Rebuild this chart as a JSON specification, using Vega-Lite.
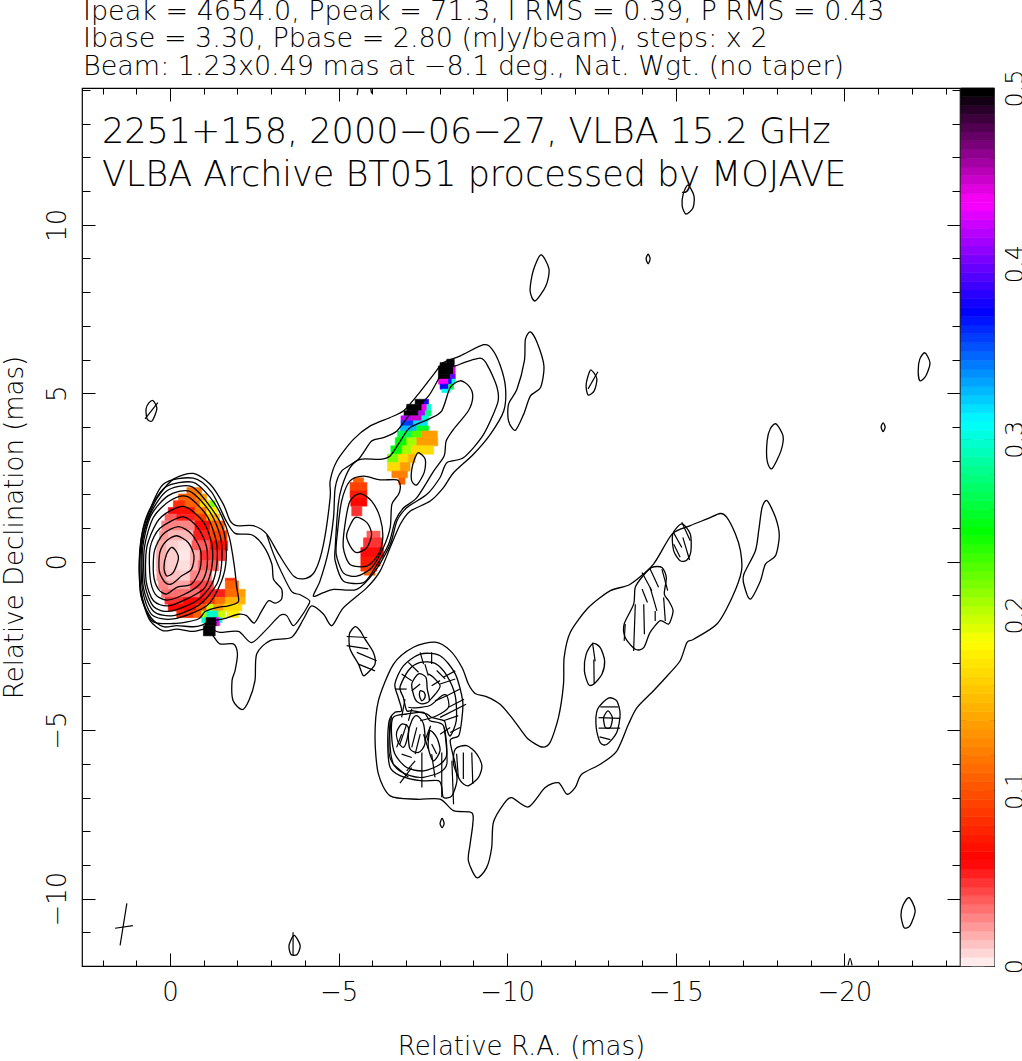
{"$schema":"https://vega.github.io/schema/vega-lite/v6.json","background":"white","padding":{"left":0,"top":-3,"right":0,"bottom":0},"bounds":"flush","spacing":1,
"config":{"font":"DejaVu Sans","view":{"stroke":"#000","strokeWidth":1.2},"axis":{"grid":false,"domain":false,"tickColor":"#000","tickWidth":1,"labelColor":"#000","titleColor":"#000","labelFont":"DejaVu Sans","titleFont":"DejaVu Sans","labelFontWeight":200,"titleFontWeight":200,"labelFontSize":26,"titleFontSize":26,"labelOverlap":false,"labelBound":false,"labelFlush":false}},
"datasets":{
"heat":[
{"ra0":-0.5,"ra1":-0.94,"dec0":2.2,"dec1":2.01,"frac":0.12},
{"ra0":-0.25,"ra1":-0.79,"dec0":2.01,"dec1":1.81,"frac":0.11},{"ra0":-0.79,"ra1":-1.09,"dec0":2.01,"dec1":1.81,"frac":0.14},
{"ra0":-0.1,"ra1":-0.45,"dec0":1.81,"dec1":1.61,"frac":0.085},{"ra0":-0.45,"ra1":-0.89,"dec0":1.81,"dec1":1.61,"frac":0.11},{"ra0":-0.89,"ra1":-1.19,"dec0":1.81,"dec1":1.61,"frac":0.17},{"ra0":-1.19,"ra1":-1.34,"dec0":1.81,"dec1":1.61,"frac":0.22},
{"ra0":0.05,"ra1":-0.3,"dec0":1.61,"dec1":1.41,"frac":0.06},{"ra0":-0.3,"ra1":-0.74,"dec0":1.61,"dec1":1.41,"frac":0.07},{"ra0":-0.74,"ra1":-1.09,"dec0":1.61,"dec1":1.41,"frac":0.12},{"ra0":-1.09,"ra1":-1.41,"dec0":1.61,"dec1":1.41,"frac":0.18},
{"ra0":0.15,"ra1":-0.2,"dec0":1.41,"dec1":1.21,"frac":0.04},{"ra0":-0.2,"ra1":-0.74,"dec0":1.41,"dec1":1.21,"frac":0.055},{"ra0":-0.74,"ra1":-1.09,"dec0":1.41,"dec1":1.21,"frac":0.09},{"ra0":-1.09,"ra1":-1.47,"dec0":1.41,"dec1":1.21,"frac":0.15},
{"ra0":0.25,"ra1":0,"dec0":1.21,"dec1":0.92,"frac":0.03},{"ra0":0,"ra1":-0.74,"dec0":1.21,"dec1":0.92,"frac":0.03},{"ra0":-0.74,"ra1":-1.19,"dec0":1.21,"dec1":0.92,"frac":0.06},{"ra0":-1.19,"ra1":-1.61,"dec0":1.21,"dec1":0.92,"frac":0.11},
{"ra0":0.31,"ra1":0.05,"dec0":0.92,"dec1":0.62,"frac":0.025},{"ra0":0.05,"ra1":-0.7,"dec0":0.92,"dec1":0.62,"frac":0.018},{"ra0":-0.7,"ra1":-1.19,"dec0":0.92,"dec1":0.62,"frac":0.055},{"ra0":-1.19,"ra1":-1.69,"dec0":0.92,"dec1":0.62,"frac":0.095},
{"ra0":0.39,"ra1":0.1,"dec0":0.62,"dec1":0.33,"frac":0.02},{"ra0":0.1,"ra1":-0.25,"dec0":0.62,"dec1":0.33,"frac":0.012},{"ra0":-0.25,"ra1":-0.65,"dec0":0.62,"dec1":0.33,"frac":0.008},{"ra0":-0.65,"ra1":-1.19,"dec0":0.62,"dec1":0.33,"frac":0.04},{"ra0":-1.19,"ra1":-1.71,"dec0":0.62,"dec1":0.33,"frac":0.07},
{"ra0":0.41,"ra1":0.1,"dec0":0.33,"dec1":0.03,"frac":0.02},{"ra0":0.1,"ra1":-0.25,"dec0":0.33,"dec1":0.03,"frac":0.012},{"ra0":-0.25,"ra1":-0.6,"dec0":0.33,"dec1":0.03,"frac":0.006},{"ra0":-0.6,"ra1":-0.89,"dec0":0.33,"dec1":0.03,"frac":0.02},{"ra0":-0.89,"ra1":-1.64,"dec0":0.33,"dec1":0.03,"frac":0.05},
{"ra0":0.41,"ra1":0.1,"dec0":0.03,"dec1":-0.27,"frac":0.02},{"ra0":0.1,"ra1":-0.25,"dec0":0.03,"dec1":-0.27,"frac":0.012},{"ra0":-0.25,"ra1":-0.6,"dec0":0.03,"dec1":-0.27,"frac":0.008},{"ra0":-0.6,"ra1":-0.84,"dec0":0.03,"dec1":-0.27,"frac":0.02},{"ra0":-0.84,"ra1":-1.44,"dec0":0.03,"dec1":-0.27,"frac":0.04},
{"ra0":0.39,"ra1":0.1,"dec0":-0.27,"dec1":-0.57,"frac":0.025},{"ra0":0.1,"ra1":-0.3,"dec0":-0.27,"dec1":-0.57,"frac":0.015},{"ra0":-0.3,"ra1":-0.6,"dec0":-0.27,"dec1":-0.57,"frac":0.012},{"ra0":-0.6,"ra1":-1.24,"dec0":-0.27,"dec1":-0.57,"frac":0.03},{"ra0":-1.64,"ra1":-1.93,"dec0":-0.49,"dec1":-0.57,"frac":0.085},
{"ra0":0.34,"ra1":0.05,"dec0":-0.57,"dec1":-0.82,"frac":0.03},{"ra0":0.05,"ra1":-0.6,"dec0":-0.57,"dec1":-0.82,"frac":0.022},{"ra0":-0.6,"ra1":-1.29,"dec0":-0.57,"dec1":-0.82,"frac":0.045},{"ra0":-1.64,"ra1":-2.03,"dec0":-0.57,"dec1":-0.82,"frac":0.11},
{"ra0":0.25,"ra1":-0.89,"dec0":-0.82,"dec1":-1.06,"frac":0.035},{"ra0":-0.89,"ra1":-1.64,"dec0":-0.82,"dec1":-1.06,"frac":0.055},{"ra0":-1.64,"ra1":-2.03,"dec0":-0.82,"dec1":-1.06,"frac":0.115},{"ra0":-2.03,"ra1":-2.23,"dec0":-0.82,"dec1":-1.06,"frac":0.14},
{"ra0":0.15,"ra1":-0.4,"dec0":-1.06,"dec1":-1.26,"frac":0.05},{"ra0":-0.4,"ra1":-1.04,"dec0":-1.06,"dec1":-1.26,"frac":0.065},{"ra0":-1.04,"ra1":-1.34,"dec0":-1.06,"dec1":-1.26,"frac":0.09},{"ra0":-1.34,"ra1":-1.64,"dec0":-1.06,"dec1":-1.26,"frac":0.12},{"ra0":-1.64,"ra1":-2.23,"dec0":-1.06,"dec1":-1.26,"frac":0.15},
{"ra0":0.05,"ra1":-0.79,"dec0":-1.26,"dec1":-1.46,"frac":0.065},{"ra0":-0.79,"ra1":-1.09,"dec0":-1.26,"dec1":-1.46,"frac":0.1},{"ra0":-1.09,"ra1":-1.29,"dec0":-1.26,"dec1":-1.46,"frac":0.2},{"ra0":-1.29,"ra1":-1.59,"dec0":-1.26,"dec1":-1.46,"frac":0.14},{"ra0":-1.59,"ra1":-2.13,"dec0":-1.26,"dec1":-1.46,"frac":0.17},
{"ra0":-0.2,"ra1":-0.7,"dec0":-1.46,"dec1":-1.66,"frac":0.085},{"ra0":-0.7,"ra1":-0.94,"dec0":-1.46,"dec1":-1.66,"frac":0.11},{"ra0":-0.94,"ra1":-1.09,"dec0":-1.46,"dec1":-1.66,"frac":0.21},{"ra0":-1.09,"ra1":-1.44,"dec0":-1.46,"dec1":-1.66,"frac":0.3},{"ra0":-1.44,"ra1":-1.64,"dec0":-1.46,"dec1":-1.66,"frac":0.2},{"ra0":-1.69,"ra1":-2.03,"dec0":-1.46,"dec1":-1.66,"frac":0.18},
{"ra0":-0.94,"ra1":-1.07,"dec0":-1.66,"dec1":-1.81,"frac":0.3},{"ra0":-1.07,"ra1":-1.37,"dec0":-1.66,"dec1":-1.81,"frac":0.5},{"ra0":-1.37,"ra1":-1.47,"dec0":-1.66,"dec1":-1.81,"frac":0.42},{"ra0":-1.47,"ra1":-1.54,"dec0":-1.66,"dec1":-1.81,"frac":0.3},
{"ra0":-1.04,"ra1":-1.39,"dec0":-1.81,"dec1":-1.9,"frac":0.5},{"ra0":-1.39,"ra1":-1.47,"dec0":-1.81,"dec1":-1.9,"frac":0.44},
{"ra0":-0.99,"ra1":-1.34,"dec0":-1.9,"dec1":-2.2,"frac":0.5},
{"ra0":-8.21,"ra1":-8.43,"dec0":6.01,"dec1":5.91,"frac":0.5},{"ra0":-8.01,"ra1":-8.43,"dec0":5.91,"dec1":5.81,"frac":0.5},{"ra0":-7.96,"ra1":-8.41,"dec0":5.81,"dec1":5.56,"frac":0.5},{"ra0":-8.41,"ra1":-8.46,"dec0":5.81,"dec1":5.56,"frac":0.44},
{"ra0":-7.96,"ra1":-8.31,"dec0":5.56,"dec1":5.42,"frac":0.5},{"ra0":-8.31,"ra1":-8.46,"dec0":5.56,"dec1":5.42,"frac":0.4},
{"ra0":-7.96,"ra1":-8.26,"dec0":5.42,"dec1":5.27,"frac":0.44},{"ra0":-8.26,"ra1":-8.36,"dec0":5.42,"dec1":5.27,"frac":0.38},{"ra0":-8.36,"ra1":-8.46,"dec0":5.42,"dec1":5.27,"frac":0.3},
{"ra0":-8.01,"ra1":-8.26,"dec0":5.27,"dec1":5.12,"frac":0.38},{"ra0":-8.26,"ra1":-8.41,"dec0":5.27,"dec1":5.12,"frac":0.27},{"ra0":-8.06,"ra1":-8.31,"dec0":5.12,"dec1":5.02,"frac":0.31},
{"ra0":-7.27,"ra1":-7.54,"dec0":4.82,"dec1":4.67,"frac":0.5},{"ra0":-7.54,"ra1":-7.67,"dec0":4.82,"dec1":4.67,"frac":0.38},
{"ra0":-7.02,"ra1":-7.47,"dec0":4.67,"dec1":4.48,"frac":0.5},{"ra0":-7.47,"ra1":-7.62,"dec0":4.67,"dec1":4.48,"frac":0.44},{"ra0":-7.62,"ra1":-7.74,"dec0":4.67,"dec1":4.48,"frac":0.3},
{"ra0":-6.94,"ra1":-7.37,"dec0":4.48,"dec1":4.33,"frac":0.5},{"ra0":-7.37,"ra1":-7.57,"dec0":4.48,"dec1":4.33,"frac":0.42},{"ra0":-7.57,"ra1":-7.74,"dec0":4.48,"dec1":4.33,"frac":0.28},
{"ra0":-6.85,"ra1":-7.17,"dec0":4.33,"dec1":4.18,"frac":0.42},{"ra0":-7.17,"ra1":-7.47,"dec0":4.33,"dec1":4.18,"frac":0.45},{"ra0":-7.47,"ra1":-7.67,"dec0":4.33,"dec1":4.18,"frac":0.3},
{"ra0":-6.85,"ra1":-7.22,"dec0":4.18,"dec1":4.03,"frac":0.36},{"ra0":-7.22,"ra1":-7.64,"dec0":4.18,"dec1":4.03,"frac":0.32},
{"ra0":-6.83,"ra1":-7.32,"dec0":4.03,"dec1":3.88,"frac":0.33},{"ra0":-7.32,"ra1":-7.67,"dec0":4.03,"dec1":3.88,"frac":0.26},
{"ra0":-6.75,"ra1":-7.17,"dec0":3.88,"dec1":3.68,"frac":0.27},{"ra0":-7.17,"ra1":-7.47,"dec0":3.88,"dec1":3.68,"frac":0.23},{"ra0":-7.47,"ra1":-7.93,"dec0":3.88,"dec1":3.68,"frac":0.14},
{"ra0":-6.68,"ra1":-7.02,"dec0":3.68,"dec1":3.44,"frac":0.25},{"ra0":-7.02,"ra1":-7.32,"dec0":3.68,"dec1":3.44,"frac":0.21},{"ra0":-7.32,"ra1":-7.94,"dec0":3.68,"dec1":3.44,"frac":0.14},
{"ra0":-6.55,"ra1":-6.88,"dec0":3.44,"dec1":3.19,"frac":0.25},{"ra0":-6.88,"ra1":-7.17,"dec0":3.44,"dec1":3.19,"frac":0.21},{"ra0":-7.17,"ra1":-7.82,"dec0":3.44,"dec1":3.19,"frac":0.17},
{"ra0":-6.45,"ra1":-6.78,"dec0":3.19,"dec1":2.94,"frac":0.22},{"ra0":-6.78,"ra1":-7.07,"dec0":3.19,"dec1":2.94,"frac":0.17},{"ra0":-7.07,"ra1":-7.27,"dec0":3.19,"dec1":2.94,"frac":0.15},
{"ra0":-6.45,"ra1":-6.83,"dec0":2.94,"dec1":2.69,"frac":0.17},{"ra0":-6.83,"ra1":-7.12,"dec0":2.94,"dec1":2.69,"frac":0.14},
{"ra0":-6.58,"ra1":-7.04,"dec0":2.69,"dec1":2.49,"frac":0.125},{"ra0":-6.78,"ra1":-6.97,"dec0":2.49,"dec1":2.3,"frac":0.11},
{"ra0":-5.44,"ra1":-5.74,"dec0":2.49,"dec1":2.35,"frac":0.11},{"ra0":-5.34,"ra1":-5.84,"dec0":2.35,"dec1":2.1,"frac":0.095},{"ra0":-5.34,"ra1":-5.84,"dec0":2.1,"dec1":1.9,"frac":0.075},{"ra0":-5.36,"ra1":-5.84,"dec0":1.9,"dec1":1.65,"frac":0.065},{"ra0":-5.39,"ra1":-5.69,"dec0":1.65,"dec1":1.36,"frac":0.05},
{"ra0":-5.84,"ra1":-6.23,"dec0":0.91,"dec1":0.71,"frac":0.04},{"ra0":-5.74,"ra1":-6.31,"dec0":0.71,"dec1":0.42,"frac":0.05},{"ra0":-5.66,"ra1":-6.33,"dec0":0.42,"dec1":0.12,"frac":0.06},{"ra0":-5.66,"ra1":-6.23,"dec0":0.12,"dec1":-0.13,"frac":0.075},{"ra0":-5.66,"ra1":-6.13,"dec0":-0.13,"dec1":-0.28,"frac":0.09},{"ra0":-5.76,"ra1":-6.08,"dec0":-0.28,"dec1":-0.4,"frac":0.11}
],
"closed":[
{"g":"a11","ra":-0.05,"dec":0.425},{"g":"a11","ra":-0.2,"dec":0.28},{"g":"a11","ra":-0.25,"dec":0.08},{"g":"a11","ra":-0.1,"dec":-0.32},{"g":"a11","ra":0.1,"dec":-0.42},{"g":"a11","ra":0.18,"dec":-0.17},{"g":"a11","ra":0.1,"dec":0.23},
{"g":"a10","ra":-0.2,"dec":0.77},{"g":"a10","ra":-0.54,"dec":0.57},{"g":"a10","ra":-0.71,"dec":0.18},{"g":"a10","ra":-0.64,"dec":-0.22},{"g":"a10","ra":-0.35,"dec":-0.42},{"g":"a10","ra":-0.05,"dec":-0.66},{"g":"a10","ra":0.15,"dec":-0.61},{"g":"a10","ra":0.32,"dec":-0.27},{"g":"a10","ra":0.3,"dec":0.28},{"g":"a10","ra":0.1,"dec":0.62},
{"g":"a9","ra":-0.25,"dec":1.04},{"g":"a9","ra":-0.64,"dec":0.82},{"g":"a9","ra":-0.91,"dec":0.33},{"g":"a9","ra":-0.89,"dec":-0.22},{"g":"a9","ra":-0.64,"dec":-0.66},{"g":"a9","ra":-0.2,"dec":-0.76},{"g":"a9","ra":0.1,"dec":-0.96},{"g":"a9","ra":0.35,"dec":-0.81},{"g":"a9","ra":0.49,"dec":-0.37},{"g":"a9","ra":0.46,"dec":0.33},{"g":"a9","ra":0.2,"dec":0.82},
{"g":"a8","ra":-0.38,"dec":1.33},{"g":"a8","ra":-0.84,"dec":0.99},{"g":"a8","ra":-1.09,"dec":0.42},{"g":"a8","ra":-1.09,"dec":-0.22},{"g":"a8","ra":-0.89,"dec":-0.66},{"g":"a8","ra":-0.4,"dec":-0.98},{"g":"a8","ra":0.1,"dec":-1.14},{"g":"a8","ra":0.44,"dec":-0.96},{"g":"a8","ra":0.59,"dec":-0.47},{"g":"a8","ra":0.59,"dec":0.42},{"g":"a8","ra":0.3,"dec":0.99},
{"g":"a7","ra":-0.46,"dec":1.63},{"g":"a7","ra":-1,"dec":1.17},{"g":"a7","ra":-1.24,"dec":0.52},{"g":"a7","ra":-1.24,"dec":-0.17},{"g":"a7","ra":-1.04,"dec":-0.76},{"g":"a7","ra":-0.59,"dec":-1.06},{"g":"a7","ra":0.05,"dec":-1.31},{"g":"a7","ra":0.49,"dec":-1.16},{"g":"a7","ra":0.71,"dec":-0.56},{"g":"a7","ra":0.69,"dec":0.42},{"g":"a7","ra":0.39,"dec":1.17},{"g":"a7","ra":0,"dec":1.51},
{"g":"a6","ra":-0.52,"dec":1.93},{"g":"a6","ra":-1.09,"dec":1.37},{"g":"a6","ra":-1.37,"dec":0.62},{"g":"a6","ra":-1.39,"dec":-0.07},{"g":"a6","ra":-1.24,"dec":-0.66},{"g":"a6","ra":-0.79,"dec":-1.16},{"g":"a6","ra":0,"dec":-1.47},{"g":"a6","ra":0.49,"dec":-1.33},{"g":"a6","ra":0.75,"dec":-0.66},{"g":"a6","ra":0.76,"dec":0.42},{"g":"a6","ra":0.49,"dec":1.32},{"g":"a6","ra":0,"dec":1.81},
{"g":"a5","ra":-0.59,"dec":2.09},{"g":"a5","ra":-1.19,"dec":1.47},{"g":"a5","ra":-1.5,"dec":0.72},{"g":"a5","ra":-1.53,"dec":-0.07},{"g":"a5","ra":-1.39,"dec":-0.66},{"g":"a5","ra":-0.89,"dec":-1.26},{"g":"a5","ra":-0.1,"dec":-1.6},{"g":"a5","ra":0.49,"dec":-1.47},{"g":"a5","ra":0.79,"dec":-0.76},{"g":"a5","ra":0.81,"dec":0.42},{"g":"a5","ra":0.57,"dec":1.36},{"g":"a5","ra":0.05,"dec":1.96},
{"g":"a4","ra":-0.64,"dec":2.23},{"g":"a4","ra":-1.24,"dec":1.57},{"g":"a4","ra":-1.59,"dec":0.92},{"g":"a4","ra":-1.67,"dec":0.13},{"g":"a4","ra":-1.53,"dec":-0.57},{"g":"a4","ra":-1.09,"dec":-1.31},{"g":"a4","ra":-0.1,"dec":-1.7},{"g":"a4","ra":0.54,"dec":-1.57},{"g":"a4","ra":0.82,"dec":-0.81},{"g":"a4","ra":0.84,"dec":0.42},{"g":"a4","ra":0.61,"dec":1.36},{"g":"a4","ra":0.1,"dec":2.1},
{"g":"a3","ra":-0.67,"dec":2.36},{"g":"a3","ra":-1.19,"dec":1.91},{"g":"a3","ra":-1.53,"dec":1.36},{"g":"a3","ra":-1.76,"dec":0.72},{"g":"a3","ra":-1.9,"dec":-0.07},{"g":"a3","ra":-1.98,"dec":-0.76},{"g":"a3","ra":-2.03,"dec":-1.18},{"g":"a3","ra":-1.73,"dec":-1.31},{"g":"a3","ra":-1.39,"dec":-1.36},{"g":"a3","ra":-1.04,"dec":-1.48},{"g":"a3","ra":-0.84,"dec":-1.7},{"g":"a3","ra":-0.2,"dec":-1.83},{"g":"a3","ra":0.54,"dec":-1.75},{"g":"a3","ra":0.86,"dec":-0.86},{"g":"a3","ra":0.88,"dec":0.42},{"g":"a3","ra":0.69,"dec":1.36},{"g":"a3","ra":0.15,"dec":2.2},
{"g":"a2","ra":-0.69,"dec":2.48},{"g":"a2","ra":-1.24,"dec":2.06},{"g":"a2","ra":-1.66,"dec":1.22},{"g":"a2","ra":-1.93,"dec":0.84},{"g":"a2","ra":-2.42,"dec":0.8},{"g":"a2","ra":-2.77,"dec":0.47},{"g":"a2","ra":-3.02,"dec":-0.07},{"g":"a2","ra":-3.07,"dec":-0.52},{"g":"a2","ra":-3.31,"dec":-0.81},{"g":"a2","ra":-3.31,"dec":-1.11},{"g":"a2","ra":-3.12,"dec":-1.23},{"g":"a2","ra":-2.92,"dec":-1.16},{"g":"a2","ra":-2.72,"dec":-1.46},{"g":"a2","ra":-2.5,"dec":-1.82},{"g":"a2","ra":-2.27,"dec":-1.6},{"g":"a2","ra":-2.03,"dec":-1.56},{"g":"a2","ra":-1.58,"dec":-1.7},{"g":"a2","ra":-1.24,"dec":-1.75},{"g":"a2","ra":-0.95,"dec":-1.88},{"g":"a2","ra":-0.69,"dec":-1.93},{"g":"a2","ra":-0.2,"dec":-1.9},{"g":"a2","ra":0.2,"dec":-1.93},{"g":"a2","ra":0.57,"dec":-1.65},{"g":"a2","ra":0.87,"dec":-0.98},{"g":"a2","ra":0.9,"dec":0.3},{"g":"a2","ra":0.72,"dec":1.2},{"g":"a2","ra":0.2,"dec":2.3},
{"g":"a1","ra":-5.14,"dec":-1.37},{"g":"a1","ra":-5.84,"dec":-0.77},{"g":"a1","ra":-6.23,"dec":-0.28},{"g":"a1","ra":-6.53,"dec":0.42},{"g":"a1","ra":-6.83,"dec":1.11},{"g":"a1","ra":-7.12,"dec":1.5},{"g":"a1","ra":-7.72,"dec":1.8},{"g":"a1","ra":-8.11,"dec":2.2},{"g":"a1","ra":-8.41,"dec":2.64},{"g":"a1","ra":-9,"dec":3.19},{"g":"a1","ra":-9.5,"dec":3.78},{"g":"a1","ra":-9.9,"dec":4.48},{"g":"a1","ra":-9.95,"dec":5.17},{"g":"a1","ra":-9.8,"dec":5.81},{"g":"a1","ra":-9.55,"dec":6.31},{"g":"a1","ra":-9.3,"dec":6.44},{"g":"a1","ra":-8.61,"dec":6.11},{"g":"a1","ra":-8.11,"dec":5.91},{"g":"a1","ra":-7.82,"dec":5.56},{"g":"a1","ra":-7.32,"dec":4.92},{"g":"a1","ra":-6.93,"dec":4.48},{"g":"a1","ra":-6.53,"dec":4.28},{"g":"a1","ra":-5.94,"dec":4.03},{"g":"a1","ra":-5.44,"dec":3.63},{"g":"a1","ra":-4.95,"dec":2.99},{"g":"a1","ra":-4.75,"dec":2.4},{"g":"a1","ra":-4.75,"dec":1.9},{"g":"a1","ra":-4.55,"dec":0.51},{"g":"a1","ra":-4.3,"dec":-0.28},{"g":"a1","ra":-4.01,"dec":-0.5},{"g":"a1","ra":-3.66,"dec":-0.42},{"g":"a1","ra":-3.22,"dec":0.23},{"g":"a1","ra":-2.87,"dec":0.82},{"g":"a1","ra":-2.47,"dec":1.07},{"g":"a1","ra":-1.98,"dec":1.07},{"g":"a1","ra":-1.78,"dec":1.22},{"g":"a1","ra":-1.58,"dec":1.71},{"g":"a1","ra":-1.19,"dec":2.3},{"g":"a1","ra":-0.69,"dec":2.62},{"g":"a1","ra":-0.1,"dec":2.45},{"g":"a1","ra":0.4,"dec":1.86},{"g":"a1","ra":0.74,"dec":1.02},{"g":"a1","ra":0.89,"dec":0.23},{"g":"a1","ra":0.91,"dec":-0.37},{"g":"a1","ra":0.84,"dec":-1.06},{"g":"a1","ra":0.59,"dec":-1.75},{"g":"a1","ra":0.2,"dec":-2.05},{"g":"a1","ra":-0.2,"dec":-2},{"g":"a1","ra":-0.69,"dec":-2.07},{"g":"a1","ra":-1.04,"dec":-2},{"g":"a1","ra":-1.24,"dec":-2.15},{"g":"a1","ra":-1.48,"dec":-2.44},{"g":"a1","ra":-1.88,"dec":-2.44},{"g":"a1","ra":-2,"dec":-2.74},{"g":"a1","ra":-1.93,"dec":-3.23},{"g":"a1","ra":-1.84,"dec":-3.53},{"g":"a1","ra":-1.87,"dec":-4.12},{"g":"a1","ra":-2.14,"dec":-4.39},{"g":"a1","ra":-2.34,"dec":-4.12},{"g":"a1","ra":-2.52,"dec":-3.53},{"g":"a1","ra":-2.57,"dec":-2.74},{"g":"a1","ra":-2.97,"dec":-2.34},{"g":"a1","ra":-3.61,"dec":-2.24},{"g":"a1","ra":-3.96,"dec":-1.7},{"g":"a1","ra":-4.2,"dec":-1.31},{"g":"a1","ra":-4.55,"dec":-1.55},{"g":"a1","ra":-4.8,"dec":-1.9},
{"g":"j2","ra":-4.25,"dec":-1.02},{"g":"j2","ra":-4.45,"dec":-0.57},{"g":"j2","ra":-4.7,"dec":0.32},{"g":"j2","ra":-4.85,"dec":1.31},{"g":"j2","ra":-4.9,"dec":2.2},{"g":"j2","ra":-5.09,"dec":2.69},{"g":"j2","ra":-5.59,"dec":3.04},{"g":"j2","ra":-5.98,"dec":3.58},{"g":"j2","ra":-6.33,"dec":3.68},{"g":"j2","ra":-6.73,"dec":3.88},{"g":"j2","ra":-7.12,"dec":4.38},{"g":"j2","ra":-7.67,"dec":4.92},{"g":"j2","ra":-8.11,"dec":5.66},{"g":"j2","ra":-8.46,"dec":5.81},{"g":"j2","ra":-9.2,"dec":6.04},{"g":"j2","ra":-9.45,"dec":5.76},{"g":"j2","ra":-9.7,"dec":5.17},{"g":"j2","ra":-9.72,"dec":4.72},{"g":"j2","ra":-9.3,"dec":3.78},{"g":"j2","ra":-8.71,"dec":3.09},{"g":"j2","ra":-8.21,"dec":2.94},{"g":"j2","ra":-8.01,"dec":2.5},{"g":"j2","ra":-7.62,"dec":2},{"g":"j2","ra":-7.02,"dec":1.6},{"g":"j2","ra":-6.73,"dec":1.21},{"g":"j2","ra":-6.53,"dec":0.51},{"g":"j2","ra":-6.08,"dec":-0.28},{"g":"j2","ra":-5.54,"dec":-0.82},{"g":"j2","ra":-4.85,"dec":-0.82},{"g":"j2","ra":-4.55,"dec":-0.92},
{"g":"j3","ra":-4.9,"dec":0.42},{"g":"j3","ra":-4.99,"dec":1.7},{"g":"j3","ra":-5.09,"dec":2.2},{"g":"j3","ra":-5.34,"dec":2.79},{"g":"j3","ra":-5.64,"dec":3.04},{"g":"j3","ra":-6.23,"dec":3.04},{"g":"j3","ra":-6.53,"dec":3.14},{"g":"j3","ra":-6.83,"dec":3.58},{"g":"j3","ra":-7.12,"dec":3.98},{"g":"j3","ra":-7.67,"dec":4.23},{"g":"j3","ra":-8.06,"dec":4.48},{"g":"j3","ra":-8.31,"dec":5.17},{"g":"j3","ra":-8.61,"dec":5.37},{"g":"j3","ra":-8.86,"dec":5.22},{"g":"j3","ra":-8.98,"dec":4.92},{"g":"j3","ra":-8.85,"dec":4.48},{"g":"j3","ra":-8.41,"dec":3.93},{"g":"j3","ra":-8.19,"dec":3.58},{"g":"j3","ra":-8.13,"dec":3.14},{"g":"j3","ra":-7.82,"dec":2.69},{"g":"j3","ra":-7.32,"dec":1.9},{"g":"j3","ra":-6.93,"dec":1.6},{"g":"j3","ra":-6.68,"dec":1.21},{"g":"j3","ra":-6.48,"dec":0.51},{"g":"j3","ra":-6.08,"dec":-0.18},{"g":"j3","ra":-5.74,"dec":-0.62},{"g":"j3","ra":-5.14,"dec":-0.57},{"g":"j3","ra":-4.9,"dec":0.02},
{"g":"j4","ra":-4.96,"dec":0.81},{"g":"j4","ra":-5.09,"dec":1.8},{"g":"j4","ra":-5.34,"dec":2.4},{"g":"j4","ra":-5.74,"dec":2.54},{"g":"j4","ra":-6.23,"dec":2.43},{"g":"j4","ra":-6.73,"dec":2.43},{"g":"j4","ra":-6.83,"dec":2.25},{"g":"j4","ra":-6.78,"dec":2},{"g":"j4","ra":-6.58,"dec":1.7},{"g":"j4","ra":-6.53,"dec":1.01},{"g":"j4","ra":-6.33,"dec":0.42},{"g":"j4","ra":-5.98,"dec":-0.18},{"g":"j4","ra":-5.54,"dec":-0.43},{"g":"j4","ra":-5.14,"dec":-0.33},{"g":"j4","ra":-4.93,"dec":0.22},
{"g":"j5","ra":-5.19,"dec":1.11},{"g":"j5","ra":-5.34,"dec":1.8},{"g":"j5","ra":-5.64,"dec":2.02},{"g":"j5","ra":-5.98,"dec":1.8},{"g":"j5","ra":-6.23,"dec":1.31},{"g":"j5","ra":-6.31,"dec":0.71},{"g":"j5","ra":-6.18,"dec":0.22},{"g":"j5","ra":-5.84,"dec":-0.13},{"g":"j5","ra":-5.34,"dec":-0.08},{"g":"j5","ra":-5.14,"dec":0.42},
{"g":"j6","ra":-5.24,"dec":0.81},{"g":"j6","ra":-5.49,"dec":1.31},{"g":"j6","ra":-5.84,"dec":1.16},{"g":"j6","ra":-5.98,"dec":0.81},{"g":"j6","ra":-5.84,"dec":0.42},{"g":"j6","ra":-5.54,"dec":0.27},{"g":"j6","ra":-5.34,"dec":0.47},
{"g":"j7","ra":-7.37,"dec":3.24},{"g":"j7","ra":-7.57,"dec":3.04},{"g":"j7","ra":-7.54,"dec":2.65},{"g":"j7","ra":-7.32,"dec":2.28},{"g":"j7","ra":-7.17,"dec":2.4},{"g":"j7","ra":-7.17,"dec":2.74},{"g":"j7","ra":-7.27,"dec":3.09},
{"g":"o1","ra":-15.36,"dec":11.18},{"g":"o1","ra":-15.54,"dec":10.86},{"g":"o1","ra":-15.51,"dec":10.5},{"g":"o1","ra":-15.3,"dec":10.32},{"g":"o1","ra":-15.19,"dec":10.56},{"g":"o1","ra":-15.22,"dec":10.91},
{"g":"o2","ra":-11,"dec":9.11},{"g":"o2","ra":-11.24,"dec":8.69},{"g":"o2","ra":-11.15,"dec":8.19},{"g":"o2","ra":-10.83,"dec":7.74},{"g":"o2","ra":-10.68,"dec":8.04},{"g":"o2","ra":-10.77,"dec":8.63},
{"g":"o3","ra":-14.18,"dec":9.13},{"g":"o3","ra":-14.24,"dec":8.99},{"g":"o3","ra":-14.18,"dec":8.84},{"g":"o3","ra":-14.12,"dec":8.99},
{"g":"o4","ra":-10.69,"dec":6.82},{"g":"o4","ra":-10.89,"dec":6.5},{"g":"o4","ra":-11.09,"dec":5.81},{"g":"o4","ra":-10.99,"dec":5.17},{"g":"o4","ra":-10.69,"dec":4.92},{"g":"o4","ra":-10.49,"dec":4.38},{"g":"o4","ra":-10.24,"dec":3.9},{"g":"o4","ra":-10.04,"dec":4.18},{"g":"o4","ra":-10.04,"dec":4.67},{"g":"o4","ra":-10.29,"dec":5.12},{"g":"o4","ra":-10.51,"dec":5.96},{"g":"o4","ra":-10.54,"dec":6.6},
{"g":"o5","ra":-12.49,"dec":5.69},{"g":"o5","ra":-12.66,"dec":5.43},{"g":"o5","ra":-12.58,"dec":5.07},{"g":"o5","ra":-12.4,"dec":4.95},{"g":"o5","ra":-12.34,"dec":5.22},{"g":"o5","ra":-12.4,"dec":5.52},
{"g":"o6","ra":-22.39,"dec":6.2},{"g":"o6","ra":-22.54,"dec":5.9},{"g":"o6","ra":-22.42,"dec":5.52},{"g":"o6","ra":-22.24,"dec":5.37},{"g":"o6","ra":-22.19,"dec":5.67},{"g":"o6","ra":-22.24,"dec":6.02},
{"g":"o7","ra":-21.15,"dec":4.12},{"g":"o7","ra":-21.21,"dec":4},{"g":"o7","ra":-21.15,"dec":3.86},{"g":"o7","ra":-21.09,"dec":4},
{"g":"o8","ra":-17.97,"dec":4.09},{"g":"o8","ra":-18.18,"dec":3.74},{"g":"o8","ra":-18.12,"dec":3.29},{"g":"o8","ra":-17.85,"dec":2.76},{"g":"o8","ra":-17.71,"dec":3},{"g":"o8","ra":-17.71,"dec":3.59},{"g":"o8","ra":-17.8,"dec":3.94},
{"g":"o9","ra":0.5,"dec":4.78},{"g":"o9","ra":0.39,"dec":4.54},{"g":"o9","ra":0.53,"dec":4.18},{"g":"o9","ra":0.68,"dec":4.24},{"g":"o9","ra":0.71,"dec":4.54},{"g":"o9","ra":0.62,"dec":4.72},
{"g":"o10","ra":-21.92,"dec":-9.97},{"g":"o10","ra":-22.1,"dec":-10.35},{"g":"o10","ra":-21.95,"dec":-10.8},{"g":"o10","ra":-21.77,"dec":-10.86},{"g":"o10","ra":-21.68,"dec":-10.5},{"g":"o10","ra":-21.74,"dec":-10.2},
{"g":"o11","ra":-3.68,"dec":-11.09},{"g":"o11","ra":-3.86,"dec":-11.39},{"g":"o11","ra":-3.77,"dec":-11.66},{"g":"o11","ra":-3.59,"dec":-11.66},{"g":"o11","ra":-3.53,"dec":-11.39},
{"g":"o13","ra":-8.07,"dec":-7.62},{"g":"o13","ra":-8.13,"dec":-7.77},{"g":"o13","ra":-8.07,"dec":-7.89},{"g":"o13","ra":-8.01,"dec":-7.77},
{"g":"b","ra":-7.86,"dec":-2.39},{"g":"b","ra":-8.31,"dec":-2.64},{"g":"b","ra":-8.66,"dec":-3.14},{"g":"b","ra":-8.85,"dec":-3.63},{"g":"b","ra":-9.05,"dec":-3.91},{"g":"b","ra":-9.4,"dec":-4.01},{"g":"b","ra":-9.79,"dec":-4.23},{"g":"b","ra":-10.09,"dec":-4.57},{"g":"b","ra":-10.39,"dec":-4.97},{"g":"b","ra":-10.63,"dec":-5.27},{"g":"b","ra":-11.03,"dec":-5.5},{"g":"b","ra":-11.27,"dec":-5.37},{"g":"b","ra":-11.52,"dec":-4.63},{"g":"b","ra":-11.67,"dec":-3.64},{"g":"b","ra":-11.69,"dec":-2.84},{"g":"b","ra":-11.87,"dec":-2.1},{"g":"b","ra":-12.41,"dec":-1.36},{"g":"b","ra":-13.06,"dec":-0.86},{"g":"b","ra":-13.65,"dec":-0.67},{"g":"b","ra":-14.34,"dec":-0.07},{"g":"b","ra":-14.89,"dec":0.82},{"g":"b","ra":-15.43,"dec":1.07},{"g":"b","ra":-15.93,"dec":1.27},{"g":"b","ra":-16.32,"dec":1.43},{"g":"b","ra":-16.52,"dec":1.31},{"g":"b","ra":-16.77,"dec":0.82},{"g":"b","ra":-16.92,"dec":0.32},{"g":"b","ra":-16.95,"dec":-0.27},{"g":"b","ra":-16.67,"dec":-1.06},{"g":"b","ra":-16.22,"dec":-1.85},{"g":"b","ra":-15.53,"dec":-2.3},{"g":"b","ra":-15.33,"dec":-2.4},{"g":"b","ra":-15.13,"dec":-2.94},{"g":"b","ra":-14.79,"dec":-3.34},{"g":"b","ra":-14.34,"dec":-3.83},{"g":"b","ra":-13.85,"dec":-4.33},{"g":"b","ra":-13.6,"dec":-4.82},{"g":"b","ra":-13.25,"dec":-5.62},{"g":"b","ra":-12.76,"dec":-6.01},{"g":"b","ra":-12.21,"dec":-6.31},{"g":"b","ra":-12.02,"dec":-6.7},{"g":"b","ra":-11.77,"dec":-6.9},{"g":"b","ra":-11.52,"dec":-6.56},{"g":"b","ra":-11.12,"dec":-6.71},{"g":"b","ra":-10.63,"dec":-7.28},{"g":"b","ra":-10.13,"dec":-7},{"g":"b","ra":-9.89,"dec":-7.2},{"g":"b","ra":-9.59,"dec":-7.74},{"g":"b","ra":-9.54,"dec":-8.49},{"g":"b","ra":-9.39,"dec":-9.08},{"g":"b","ra":-9.1,"dec":-9.38},{"g":"b","ra":-8.85,"dec":-8.88},{"g":"b","ra":-8.9,"dec":-8.39},{"g":"b","ra":-8.98,"dec":-7.79},{"g":"b","ra":-8.95,"dec":-7.45},{"g":"b","ra":-8.41,"dec":-7.39},{"g":"b","ra":-8.01,"dec":-7.05},{"g":"b","ra":-7.32,"dec":-7.05},{"g":"b","ra":-6.53,"dec":-6.95},{"g":"b","ra":-6.18,"dec":-6.3},{"g":"b","ra":-6.08,"dec":-5.22},{"g":"b","ra":-6.18,"dec":-4.13},{"g":"b","ra":-6.63,"dec":-3.04},{"g":"b","ra":-7.22,"dec":-2.54},
{"g":"z","ra":-17.71,"dec":1.81},{"g":"z","ra":-17.96,"dec":1.31},{"g":"z","ra":-18.07,"dec":0.77},{"g":"z","ra":-17.96,"dec":0.18},{"g":"z","ra":-17.66,"dec":-0.07},{"g":"z","ra":-17.51,"dec":-0.57},{"g":"z","ra":-17.21,"dec":-1.11},{"g":"z","ra":-17.02,"dec":-0.67},{"g":"z","ra":-17.02,"dec":-0.37},{"g":"z","ra":-17.36,"dec":0.32},{"g":"z","ra":-17.46,"dec":0.92},{"g":"z","ra":-17.56,"dec":1.61},
{"g":"p1","ra":-15.18,"dec":1.12},{"g":"p1","ra":-15.43,"dec":0.82},{"g":"p1","ra":-15.45,"dec":0.32},{"g":"p1","ra":-15.33,"dec":0.05},{"g":"p1","ra":-15.13,"dec":0.03},{"g":"p1","ra":-14.94,"dec":0.32},{"g":"p1","ra":-14.91,"dec":0.82},
{"g":"p2","ra":-14.03,"dec":-0.42},{"g":"p2","ra":-14.29,"dec":-0.17},{"g":"p2","ra":-14.59,"dec":-0.17},{"g":"p2","ra":-14.72,"dec":-0.47},{"g":"p2","ra":-14.66,"dec":-0.96},{"g":"p2","ra":-14.79,"dec":-1.16},{"g":"p2","ra":-14.92,"dec":-1.46},{"g":"p2","ra":-14.79,"dec":-1.85},{"g":"p2","ra":-14.54,"dec":-1.75},{"g":"p2","ra":-14.24,"dec":-2.1},{"g":"p2","ra":-14.05,"dec":-2.55},{"g":"p2","ra":-13.8,"dec":-2.6},{"g":"p2","ra":-13.5,"dec":-2.25},{"g":"p2","ra":-13.47,"dec":-1.85},{"g":"p2","ra":-13.75,"dec":-1.26},{"g":"p2","ra":-13.8,"dec":-0.76},
{"g":"p3","ra":-12.54,"dec":-2.43},{"g":"p3","ra":-12.76,"dec":-2.55},{"g":"p3","ra":-12.89,"dec":-2.94},{"g":"p3","ra":-12.81,"dec":-3.34},{"g":"p3","ra":-12.56,"dec":-3.64},{"g":"p3","ra":-12.41,"dec":-3.64},{"g":"p3","ra":-12.29,"dec":-3.24},{"g":"p3","ra":-12.34,"dec":-2.75},
{"g":"p4","ra":-13,"dec":-4.05},{"g":"p4","ra":-13.25,"dec":-4.13},{"g":"p4","ra":-13.35,"dec":-4.53},{"g":"p4","ra":-13.25,"dec":-5.07},{"g":"p4","ra":-12.96,"dec":-5.42},{"g":"p4","ra":-12.76,"dec":-5.37},{"g":"p4","ra":-12.64,"dec":-4.92},{"g":"p4","ra":-12.68,"dec":-4.38},
{"g":"p4b","ra":-12.99,"dec":-4.43},{"g":"p4b","ra":-13.12,"dec":-4.63},{"g":"p4b","ra":-13.06,"dec":-4.92},{"g":"p4b","ra":-12.91,"dec":-4.92},{"g":"p4b","ra":-12.86,"dec":-4.63},
{"g":"p5","ra":-8.8,"dec":-5.46},{"g":"p5","ra":-9.1,"dec":-5.71},{"g":"p5","ra":-9.25,"dec":-6.06},{"g":"p5","ra":-9.15,"dec":-6.4},{"g":"p5","ra":-8.85,"dec":-6.65},{"g":"p5","ra":-8.61,"dec":-6.5},{"g":"p5","ra":-8.41,"dec":-6},{"g":"p5","ra":-8.46,"dec":-5.56},
{"g":"p6","ra":-5.49,"dec":-1.93},{"g":"p6","ra":-5.64,"dec":-2.05},{"g":"p6","ra":-5.78,"dec":-2.29},{"g":"p6","ra":-6.03,"dec":-2.69},{"g":"p6","ra":-6.08,"dec":-3.04},{"g":"p6","ra":-5.88,"dec":-3.28},{"g":"p6","ra":-5.73,"dec":-3.38},{"g":"p6","ra":-5.59,"dec":-3.04},{"g":"p6","ra":-5.34,"dec":-2.59},{"g":"p6","ra":-5.32,"dec":-2.15},
{"g":"po","ra":-7.42,"dec":-2.74},{"g":"po","ra":-8.01,"dec":-2.79},{"g":"po","ra":-8.46,"dec":-3.33},{"g":"po","ra":-8.68,"dec":-4.13},{"g":"po","ra":-8.65,"dec":-4.72},{"g":"po","ra":-8.56,"dec":-5.17},{"g":"po","ra":-8.31,"dec":-5.31},{"g":"po","ra":-8.46,"dec":-6.01},{"g":"po","ra":-8.51,"dec":-6.5},{"g":"po","ra":-8.36,"dec":-6.95},{"g":"po","ra":-8.11,"dec":-7},{"g":"po","ra":-8.06,"dec":-6.7},{"g":"po","ra":-7.96,"dec":-6.5},{"g":"po","ra":-7.42,"dec":-6.5},{"g":"po","ra":-6.82,"dec":-6.35},{"g":"po","ra":-6.53,"dec":-6.11},{"g":"po","ra":-6.46,"dec":-5.51},{"g":"po","ra":-6.5,"dec":-4.72},{"g":"po","ra":-6.67,"dec":-4.47},{"g":"po","ra":-6.87,"dec":-4.42},{"g":"po","ra":-6.77,"dec":-4.03},{"g":"po","ra":-6.67,"dec":-3.63},{"g":"po","ra":-6.92,"dec":-3.09},
{"g":"u1","ra":-7.42,"dec":-2.99},{"g":"u1","ra":-7.86,"dec":-3.02},{"g":"u1","ra":-8.21,"dec":-3.38},{"g":"u1","ra":-8.46,"dec":-3.98},{"g":"u1","ra":-8.49,"dec":-4.72},{"g":"u1","ra":-8.31,"dec":-5.17},{"g":"u1","ra":-8.19,"dec":-4.92},{"g":"u1","ra":-8.13,"dec":-4.72},{"g":"u1","ra":-7.76,"dec":-4.62},{"g":"u1","ra":-7.61,"dec":-4.52},{"g":"u1","ra":-7.17,"dec":-4.42},{"g":"u1","ra":-7.02,"dec":-4.42},{"g":"u1","ra":-6.92,"dec":-4.03},{"g":"u1","ra":-6.82,"dec":-3.73},{"g":"u1","ra":-7.07,"dec":-3.23},
{"g":"u4","ra":-7.37,"dec":-3.33},{"g":"u4","ra":-7.59,"dec":-3.43},{"g":"u4","ra":-7.63,"dec":-3.78},{"g":"u4","ra":-7.69,"dec":-4.13},{"g":"u4","ra":-7.47,"dec":-4.22},{"g":"u4","ra":-7.27,"dec":-4.08},{"g":"u4","ra":-7.17,"dec":-3.63},
{"g":"u3","ra":-7.42,"dec":-3.83},{"g":"u3","ra":-7.54,"dec":-3.88},{"g":"u3","ra":-7.56,"dec":-4.03},{"g":"u3","ra":-7.47,"dec":-4.13},{"g":"u3","ra":-7.4,"dec":-3.98},
{"g":"ll","ra":-6.87,"dec":-4.82},{"g":"ll","ra":-7.07,"dec":-4.92},{"g":"ll","ra":-7.02,"dec":-5.31},{"g":"ll","ra":-6.92,"dec":-5.51},{"g":"ll","ra":-6.77,"dec":-5.36},{"g":"ll","ra":-6.72,"dec":-5.07},
{"g":"lm","ra":-7.32,"dec":-4.57},{"g":"lm","ra":-7.52,"dec":-4.82},{"g":"lm","ra":-7.56,"dec":-5.41},{"g":"lm","ra":-7.37,"dec":-5.66},{"g":"lm","ra":-7.12,"dec":-5.56},{"g":"lm","ra":-7.07,"dec":-5.12},{"g":"lm","ra":-7.17,"dec":-4.72},
{"g":"lr","ra":-7.71,"dec":-5.02},{"g":"lr","ra":-7.91,"dec":-5.22},{"g":"lr","ra":-8.01,"dec":-5.61},{"g":"lr","ra":-7.81,"dec":-5.91},{"g":"lr","ra":-7.66,"dec":-5.51},
{"g":"lo","ra":-6.62,"dec":-4.62},{"g":"lo","ra":-7.02,"dec":-4.52},{"g":"lo","ra":-7.52,"dec":-4.47},{"g":"lo","ra":-7.71,"dec":-4.72},{"g":"lo","ra":-8.11,"dec":-4.87},{"g":"lo","ra":-8.21,"dec":-5.71},{"g":"lo","ra":-8.01,"dec":-6.01},{"g":"lo","ra":-7.52,"dec":-6.21},{"g":"lo","ra":-7.02,"dec":-6.11},{"g":"lo","ra":-6.67,"dec":-5.71},{"g":"lo","ra":-6.57,"dec":-5.12}
],
"open":[
{"g":"r","ra":-2.87,"dec":0.8},{"g":"r","ra":-3.07,"dec":0.23},{"g":"r","ra":-3.31,"dec":-0.32},{"g":"r","ra":-3.61,"dec":-0.89},{"g":"r","ra":-3.86,"dec":-0.98},{"g":"r","ra":-4.14,"dec":-1.16},{"g":"r","ra":-4.06,"dec":-1.36},{"g":"r","ra":-3.91,"dec":-1.6},{"g":"r","ra":-3.66,"dec":-1.9},{"g":"r","ra":-3.46,"dec":-1.6},{"g":"r","ra":-3.26,"dec":-1.6},{"g":"r","ra":-2.87,"dec":-2},{"g":"r","ra":-2.42,"dec":-2.4},{"g":"r","ra":-2.03,"dec":-2.07},{"g":"r","ra":-1.48,"dec":-2.1},{"g":"r","ra":-1.28,"dec":-2},
{"g":"u5","ra":-7.69,"dec":-4.13},{"g":"u5","ra":-7.91,"dec":-3.88},{"g":"u5","ra":-8.01,"dec":-3.68},{"g":"u5","ra":-7.81,"dec":-3.43},{"g":"u5","ra":-7.66,"dec":-3.33},
{"g":"u6","ra":-7.42,"dec":-4.72},{"g":"u6","ra":-7.91,"dec":-4.57},{"g":"u6","ra":-8.26,"dec":-4.32},{"g":"u6","ra":-8.21,"dec":-3.98},{"g":"u6","ra":-8.06,"dec":-3.98},{"g":"u6","ra":-7.71,"dec":-4.27},{"g":"u6","ra":-7.27,"dec":-4.34},{"g":"u6","ra":-7.07,"dec":-4.32},
{"g":"lo2","ra":-6.53,"dec":-4.67},{"g":"lo2","ra":-6.5,"dec":-5.71},{"g":"lo2","ra":-6.72,"dec":-6.13},{"g":"lo2","ra":-7.12,"dec":-6.35},{"g":"lo2","ra":-7.52,"dec":-6.4},{"g":"lo2","ra":-8.01,"dec":-6.25},{"g":"lo2","ra":-8.21,"dec":-6.01},{"g":"lo2","ra":-8.19,"dec":-5.41},{"g":"lo2","ra":-8.13,"dec":-4.92},
{"g":"lo3","ra":-6.57,"dec":-4.57},{"g":"lo3","ra":-6.52,"dec":-5.17},{"g":"lo3","ra":-6.55,"dec":-5.71},{"g":"lo3","ra":-6.62,"dec":-6},
{"g":"o12","ra":-20.11,"dec":-11.98},{"g":"o12","ra":-20.17,"dec":-11.77},{"g":"o12","ra":-20.23,"dec":-11.98},
{"g":"top","ra":-5.58,"dec":14.06},{"g":"top","ra":-5.55,"dec":13.85},{"g":"top2","ra":-5.95,"dec":14.06},{"g":"top2","ra":-5.98,"dec":13.9},
{"g":"beam1","ra":1.28,"dec":-10.14},{"g":"beam1","ra":1.48,"dec":-11.39},{"g":"beam2","ra":1.63,"dec":-10.88},{"g":"beam2","ra":1.1,"dec":-10.8},
{"g":"e1","ra":0.36,"dec":4.72},{"g":"e1","ra":0.74,"dec":4.24},{"g":"e2","ra":-12.69,"dec":5.64},{"g":"e2","ra":-12.4,"dec":5.13},{"g":"e3","ra":-3.65,"dec":-11.0},{"g":"e3","ra":-3.65,"dec":-11.68},
{"g":"t1","ra":-14.93,"dec":0.87},{"g":"t1","ra":-15.18,"dec":0.42},{"g":"t2","ra":-15.18,"dec":1.17},{"g":"t2","ra":-15.43,"dec":0.62},{"g":"t3","ra":-14.94,"dec":0.52},{"g":"t3","ra":-15.13,"dec":0.13},{"g":"t4","ra":-15.21,"dec":0.72},{"g":"t4","ra":-15.41,"dec":0.05},
{"g":"t5","ra":-14,"dec":-0.32},{"g":"t5","ra":-14.29,"dec":-0.86},{"g":"t6","ra":-14.24,"dec":-0.22},{"g":"t6","ra":-14.49,"dec":-0.76},{"g":"t7","ra":-14.59,"dec":-0.22},{"g":"t7","ra":-14.76,"dec":-0.86},{"g":"t8","ra":-14,"dec":-0.81},{"g":"t8","ra":-14.16,"dec":-1.21},{"g":"t9","ra":-14.24,"dec":-0.76},{"g":"t9","ra":-14.44,"dec":-1.46},{"g":"t10","ra":-14.64,"dec":-1.06},{"g":"t10","ra":-14.69,"dec":-1.76},{"g":"t11","ra":-14.39,"dec":-1.46},{"g":"t11","ra":-14.39,"dec":-1.76},{"g":"t12","ra":-14.05,"dec":-1.26},{"g":"t12","ra":-14.07,"dec":-2.15},{"g":"t13","ra":-13.8,"dec":-1.26},{"g":"t13","ra":-13.75,"dec":-2.65},{"g":"t14","ra":-13.5,"dec":-1.85},{"g":"t14","ra":-13.47,"dec":-2.35},
{"g":"t15","ra":-12.53,"dec":-2.4},{"g":"t15","ra":-12.61,"dec":-2.96},{"g":"t16","ra":-12.57,"dec":-2.9},{"g":"t16","ra":-12.58,"dec":-3.64},
{"g":"t17","ra":-12.76,"dec":-4.31},{"g":"t17","ra":-13.3,"dec":-4.31},{"g":"t18","ra":-12.71,"dec":-4.63},{"g":"t18","ra":-13.35,"dec":-4.65},{"g":"t19","ra":-12.71,"dec":-4.94},{"g":"t19","ra":-13.35,"dec":-4.94},{"g":"t20","ra":-12.74,"dec":-5.2},{"g":"t20","ra":-13.06,"dec":-5.28},
{"g":"t21","ra":-8.7,"dec":-5.66},{"g":"t21","ra":-8.7,"dec":-6.45},{"g":"t22","ra":-8.95,"dec":-5.66},{"g":"t22","ra":-8.98,"dec":-6.6},{"g":"t23","ra":-8.5,"dec":-5.7},{"g":"t23","ra":-8.55,"dec":-6.4},
{"g":"t24","ra":-5.24,"dec":-2.22},{"g":"t24","ra":-5.85,"dec":-2.25},{"g":"t25","ra":-5.24,"dec":-2.49},{"g":"t25","ra":-5.88,"dec":-2.59},{"g":"t26","ra":-5.54,"dec":-2.69},{"g":"t26","ra":-6.13,"dec":-2.94},{"g":"t27","ra":-5.59,"dec":-3.04},{"g":"t27","ra":-6.08,"dec":-3.24},
{"g":"c1","ra":-7.42,"dec":-2.69},{"g":"c1","ra":-7.52,"dec":-3.04},{"g":"c2","ra":-7.76,"dec":-2.69},{"g":"c2","ra":-7.76,"dec":-3.04},{"g":"c3","ra":-7.07,"dec":-2.99},{"g":"c3","ra":-7.37,"dec":-3.28},{"g":"c4","ra":-6.67,"dec":-3.78},{"g":"c4","ra":-7.02,"dec":-3.78},{"g":"c5","ra":-6.87,"dec":-3.33},{"g":"c5","ra":-7.17,"dec":-3.53},{"g":"c6","ra":-8.11,"dec":-3.43},{"g":"c6","ra":-8.46,"dec":-3.24},{"g":"c7","ra":-8.01,"dec":-3.63},{"g":"c7","ra":-8.46,"dec":-3.48},{"g":"c8","ra":-8.21,"dec":-3.98},{"g":"c8","ra":-8.6,"dec":-3.78},{"g":"c9","ra":-8.26,"dec":-4.32},{"g":"c9","ra":-8.72,"dec":-4.08},{"g":"c10","ra":-8.01,"dec":-4.62},{"g":"c10","ra":-8.78,"dec":-4.23},{"g":"c11","ra":-8.11,"dec":-4.72},{"g":"c11","ra":-8.55,"dec":-4.57},{"g":"c12","ra":-8.31,"dec":-5.07},{"g":"c12","ra":-8.6,"dec":-4.92},{"g":"c13","ra":-7.56,"dec":-3.04},{"g":"c13","ra":-7.66,"dec":-3.38},{"g":"c14","ra":-7.91,"dec":-3.23},{"g":"c14","ra":-8.16,"dec":-3.48},{"g":"c15","ra":-7.17,"dec":-3.83},{"g":"c15","ra":-7.42,"dec":-3.63},{"g":"c16","ra":-7.76,"dec":-3.68},{"g":"c16","ra":-8.01,"dec":-3.53},{"g":"c17","ra":-7.86,"dec":-4.13},{"g":"c17","ra":-8.21,"dec":-3.98},{"g":"c18","ra":-6.97,"dec":-4.08},{"g":"c18","ra":-6.87,"dec":-4.62},{"g":"c19","ra":-7.17,"dec":-4.37},{"g":"c19","ra":-7.07,"dec":-4.72},{"g":"c20","ra":-7.56,"dec":-5.31},{"g":"c20","ra":-7.73,"dec":-4.87},{"g":"c21","ra":-7.63,"dec":-5.31},{"g":"c21","ra":-7.71,"dec":-4.92},{"g":"c22","ra":-7.52,"dec":-5.12},{"g":"c22","ra":-7.66,"dec":-5.56},{"g":"c23","ra":-7.47,"dec":-5.66},{"g":"c23","ra":-7.47,"dec":-6.7},{"g":"c24","ra":-7.76,"dec":-5.71},{"g":"c24","ra":-7.86,"dec":-6.4},{"g":"c25","ra":-8.06,"dec":-5.66},{"g":"c25","ra":-8.06,"dec":-6.99},{"g":"c26","ra":-8.36,"dec":-5.91},{"g":"c26","ra":-8.41,"dec":-7.2},{"g":"c27","ra":-6.82,"dec":-6.57},{"g":"c27","ra":-7.17,"dec":-6.11},{"g":"c28","ra":-6.62,"dec":-6.01},{"g":"c28","ra":-7.07,"dec":-6.4},{"g":"c29","ra":-6.87,"dec":-5.12},{"g":"c29","ra":-6.72,"dec":-5.51},{"g":"c30","ra":-7.02,"dec":-4.82},{"g":"c30","ra":-6.82,"dec":-5.41},{"g":"c31","ra":-7.32,"dec":-4.92},{"g":"c31","ra":-7.17,"dec":-5.51},{"g":"c32","ra":-7.42,"dec":-5.12},{"g":"c32","ra":-7.27,"dec":-5.71},{"g":"c33","ra":-6.87,"dec":-5.71},{"g":"c33","ra":-7.17,"dec":-5.81},{"g":"c34","ra":-7.91,"dec":-5.71},{"g":"c34","ra":-7.76,"dec":-5.41},{"g":"c35","ra":-7.27,"dec":-5.91},{"g":"c35","ra":-7.02,"dec":-6.21},{"g":"c36","ra":-8.01,"dec":-5.12},{"g":"c36","ra":-8.31,"dec":-4.92}
],
"bar":[{"a":0,"b":0.005},{"a":0.005,"b":0.01},{"a":0.01,"b":0.015},{"a":0.015,"b":0.02},{"a":0.02,"b":0.025},{"a":0.025,"b":0.03},{"a":0.03,"b":0.035},{"a":0.035,"b":0.04},{"a":0.04,"b":0.045},{"a":0.045,"b":0.05},{"a":0.05,"b":0.055},{"a":0.055,"b":0.06},{"a":0.06,"b":0.065},{"a":0.065,"b":0.07},{"a":0.07,"b":0.075},{"a":0.075,"b":0.08},{"a":0.08,"b":0.085},{"a":0.085,"b":0.09},{"a":0.09,"b":0.095},{"a":0.095,"b":0.1},{"a":0.1,"b":0.105},{"a":0.105,"b":0.11},{"a":0.11,"b":0.115},{"a":0.115,"b":0.12},{"a":0.12,"b":0.125},{"a":0.125,"b":0.13},{"a":0.13,"b":0.135},{"a":0.135,"b":0.14},{"a":0.14,"b":0.145},{"a":0.145,"b":0.15},{"a":0.15,"b":0.155},{"a":0.155,"b":0.16},{"a":0.16,"b":0.165},{"a":0.165,"b":0.17},{"a":0.17,"b":0.175},{"a":0.175,"b":0.18},{"a":0.18,"b":0.185},{"a":0.185,"b":0.19},{"a":0.19,"b":0.195},{"a":0.195,"b":0.2},{"a":0.2,"b":0.205},{"a":0.205,"b":0.21},{"a":0.21,"b":0.215},{"a":0.215,"b":0.22},{"a":0.22,"b":0.225},{"a":0.225,"b":0.23},{"a":0.23,"b":0.235},{"a":0.235,"b":0.24},{"a":0.24,"b":0.245},{"a":0.245,"b":0.25},{"a":0.25,"b":0.255},{"a":0.255,"b":0.26},{"a":0.26,"b":0.265},{"a":0.265,"b":0.27},{"a":0.27,"b":0.275},{"a":0.275,"b":0.28},{"a":0.28,"b":0.285},{"a":0.285,"b":0.29},{"a":0.29,"b":0.295},{"a":0.295,"b":0.3},{"a":0.3,"b":0.305},{"a":0.305,"b":0.31},{"a":0.31,"b":0.315},{"a":0.315,"b":0.32},{"a":0.32,"b":0.325},{"a":0.325,"b":0.33},{"a":0.33,"b":0.335},{"a":0.335,"b":0.34},{"a":0.34,"b":0.345},{"a":0.345,"b":0.35},{"a":0.35,"b":0.355},{"a":0.355,"b":0.36},{"a":0.36,"b":0.365},{"a":0.365,"b":0.37},{"a":0.37,"b":0.375},{"a":0.375,"b":0.38},{"a":0.38,"b":0.385},{"a":0.385,"b":0.39},{"a":0.39,"b":0.395},{"a":0.395,"b":0.4},{"a":0.4,"b":0.405},{"a":0.405,"b":0.41},{"a":0.41,"b":0.415},{"a":0.415,"b":0.42},{"a":0.42,"b":0.425},{"a":0.425,"b":0.43},{"a":0.43,"b":0.435},{"a":0.435,"b":0.44},{"a":0.44,"b":0.445},{"a":0.445,"b":0.45},{"a":0.45,"b":0.455},{"a":0.455,"b":0.46},{"a":0.46,"b":0.465},{"a":0.465,"b":0.47},{"a":0.47,"b":0.475},{"a":0.475,"b":0.48},{"a":0.48,"b":0.485},{"a":0.485,"b":0.49},{"a":0.49,"b":0.495},{"a":0.495,"b":0.5}]
},
"hconcat":[
{"width":878,"height":878,"resolve":{"axis":{"x":"independent","y":"independent"}},
"layer":[
{"data":{"name":"heat"},"mark":{"type":"rect","strokeWidth":0.6},"encoding":{
"x":{"field":"ra0","type":"quantitative","scale":{"domain":[2.61,-23.43],"nice":false,"zero":false},"axis":{"orient":"bottom","values":[0,-5,-10,-15,-20],"tickSize":-13,"format":"d","labelPadding":26,"title":"Relative R.A. (mas)","titlePadding":28,"labelAngle":0,"labelBaseline":"top"}},
"x2":{"field":"ra1"},
"y":{"field":"dec0","type":"quantitative","scale":{"domain":[-12,14.06],"nice":false,"zero":false},"axis":{"orient":"left","values":[-10,-5,0,5,10],"tickSize":-13,"format":"d","labelAngle":-90,"labelAlign":"center","labelBaseline":"bottom","labelPadding":25,"title":"Relative Declination (mas)","titlePadding":17}},
"y2":{"field":"dec1"},
"color":{"field":"frac","type":"quantitative","legend":null,"scale":{"domain":[0,0.0625,0.1875,0.25,0.3125,0.375,0.4375,0.5],"range":["#ffffff","#ff0000","#ffff00","#00ff00","#00ffff","#0000ff","#ff00ff","#000000"],"interpolate":"rgb"}},
"stroke":{"field":"frac","type":"quantitative","legend":null,"scale":{"domain":[0,0.0625,0.1875,0.25,0.3125,0.375,0.4375,0.5],"range":["#ffffff","#ff0000","#ffff00","#00ff00","#00ffff","#0000ff","#ff00ff","#000000"],"interpolate":"rgb"}}}},
{"data":{"name":"closed"},"mark":{"type":"line","interpolate":"cardinal-closed","tension":0.2,"stroke":"#000","strokeWidth":1.3},"encoding":{
"x":{"field":"ra","type":"quantitative","axis":{"orient":"bottom","values":[2,1,-1,-2,-3,-4,-6,-7,-8,-9,-11,-12,-13,-14,-16,-17,-18,-19,-21,-22,-23],"tickSize":-6,"labels":false,"title":null}},
"y":{"field":"dec","type":"quantitative","axis":{"orient":"left","values":[-11,-9,-8,-7,-6,-4,-3,-2,-1,1,2,3,4,6,7,8,9,11,12,13,14],"tickSize":-8,"labels":false,"title":null}},
"detail":{"field":"g"},"order":{"value":null}}},
{"data":{"name":"open"},"mark":{"type":"line","interpolate":"cardinal","tension":0.2,"stroke":"#000","strokeWidth":1.2},"encoding":{
"x":{"field":"ra","type":"quantitative","axis":{"orient":"top","values":[0,-5,-10,-15,-20],"tickSize":-13,"labels":false,"title":null}},
"y":{"field":"dec","type":"quantitative","axis":{"orient":"right","values":[-10,-5,0,5,10],"tickSize":-13,"labels":false,"title":null}},
"detail":{"field":"g"},"order":{"value":null}}},
{"data":{"values":[{"ra":2.02,"dec":12.43,"t":"2251+158, 2000−06−27, VLBA 15.2 GHz"},{"ra":2.02,"dec":11.15,"t":"VLBA Archive BT051 processed by MOJAVE"}]},"mark":{"type":"text","align":"left","baseline":"alphabetic","fontSize":35,"font":"DejaVu Sans","fontWeight":200,"fill":"#000"},"encoding":{
"x":{"field":"ra","type":"quantitative","axis":{"orient":"top","values":[2,1,-1,-2,-3,-4,-6,-7,-8,-9,-11,-12,-13,-14,-16,-17,-18,-19,-21,-22,-23],"tickSize":-6,"labels":false,"title":null}},
"y":{"field":"dec","type":"quantitative","axis":{"orient":"right","values":[-11,-9,-8,-7,-6,-4,-3,-2,-1,1,2,3,4,6,7,8,9,11,12,13,14],"tickSize":-8,"labels":false,"title":null}},
"text":{"field":"t"}}},
{"data":{"values":[{"ra":2.58,"dec":16.07,"t":"Ipeak = 4654.0, Ppeak = 71.3, I RMS = 0.39, P RMS = 0.43"},{"ra":2.58,"dec":15.27,"t":"Ibase = 3.30, Pbase = 2.80 (mJy/beam), steps: x 2"},{"ra":2.58,"dec":14.44,"t":"Beam: 1.23x0.49 mas at −8.1 deg., Nat. Wgt. (no taper)"}]},"mark":{"type":"text","align":"left","baseline":"alphabetic","fontSize":27,"font":"DejaVu Sans","fontWeight":200,"fill":"#000"},"encoding":{
"x":{"field":"ra","type":"quantitative","axis":null},
"y":{"field":"dec","type":"quantitative","axis":null},
"text":{"field":"t"}}}
]},
{"width":33,"height":878,"resolve":{"axis":{"y":"independent"}},"view":{"stroke":"#333"},
"layer":[
{"data":{"name":"bar"},"mark":{"type":"rect","strokeWidth":0.6},"encoding":{
"x":{"datum":0,"type":"quantitative","scale":{"domain":[0,1],"nice":false,"zero":false},"axis":null},"x2":{"datum":1},
"y":{"field":"a","type":"quantitative","scale":{"domain":[0,0.5],"nice":false,"zero":false},"axis":{"orient":"right","values":[0,0.1,0.2,0.3,0.4,0.5],"tickSize":-10,"labelFontSize":24,"labelAngle":-90,"labelAlign":"center","labelBaseline":"top","labelPadding":19,"title":null,"labelExpr":"datum.value == 0 ? '0' : format(datum.value,'.1f')"}},
"y2":{"field":"b"},
"color":{"field":"b","type":"quantitative","legend":null,"scale":{"domain":[0,0.0625,0.1875,0.25,0.3125,0.375,0.4375,0.5],"range":["#ffffff","#ff0000","#ffff00","#00ff00","#00ffff","#0000ff","#ff00ff","#000000"],"interpolate":"rgb"}},
"stroke":{"field":"b","type":"quantitative","legend":null,"scale":{"domain":[0,0.0625,0.1875,0.25,0.3125,0.375,0.4375,0.5],"range":["#ffffff","#ff0000","#ffff00","#00ff00","#00ffff","#0000ff","#ff00ff","#000000"],"interpolate":"rgb"}}}},
{"data":{"values":[{"v":0}]},"mark":{"type":"point","opacity":0},"encoding":{"x":{"datum":0,"type":"quantitative","axis":null},"y":{"field":"v","type":"quantitative","axis":{"orient":"left","values":[0,0.1,0.2,0.3,0.4,0.5],"tickSize":-10,"labels":false,"title":null}}}},
{"data":{"values":[{"v":0}]},"mark":{"type":"point","opacity":0},"encoding":{"x":{"datum":0,"type":"quantitative","axis":null},"y":{"field":"v","type":"quantitative","axis":{"orient":"right","values":[0.02,0.04,0.06,0.08,0.12,0.14,0.16,0.18,0.22,0.24,0.26,0.28,0.32,0.34,0.36,0.38,0.42,0.44,0.46,0.48],"tickSize":-5,"labels":false,"title":null}}}},
{"data":{"values":[{"v":0}]},"mark":{"type":"point","opacity":0},"encoding":{"x":{"datum":0,"type":"quantitative","axis":null},"y":{"field":"v","type":"quantitative","axis":{"orient":"left","values":[0.02,0.04,0.06,0.08,0.12,0.14,0.16,0.18,0.22,0.24,0.26,0.28,0.32,0.34,0.36,0.38,0.42,0.44,0.46,0.48],"tickSize":-5,"labels":false,"title":null}}}}
]}
]}
